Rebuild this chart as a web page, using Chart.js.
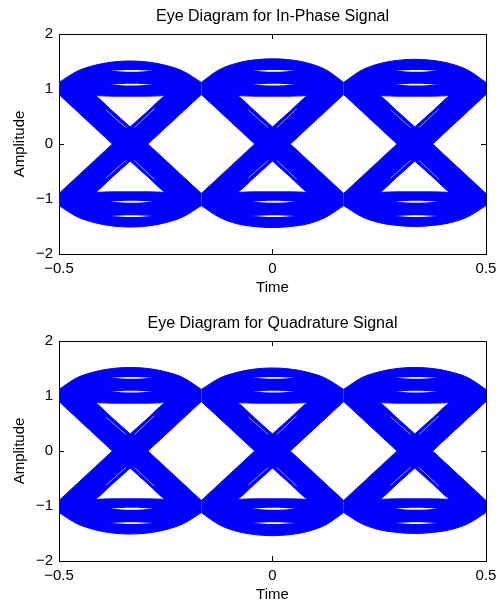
<!DOCTYPE html>
<html><head><meta charset="utf-8">
<script src="https://cdn.jsdelivr.net/npm/chart.js@4.4.1/dist/chart.umd.min.js"></script>
<style>
html,body{margin:0;padding:0;background:#fff;overflow:hidden;width:499px;height:607px}
canvas{position:absolute;left:0}
#c1{top:0px}
#c2{top:307px}
</style></head><body>
<canvas id="c1" width="499" height="300"></canvas>
<canvas id="c2" width="499" height="300"></canvas>
<script>
// ---------------- data ----------------
const titles = ['Eye Diagram for In-Phase Signal', 'Eye Diagram for Quadrature Signal'];
const xLabel = 'Time';
const yLabel = 'Amplitude';
const xTickValues = [-0.5, 0, 0.5];
const yTickValues = [-2, -1, 0, 1, 2];

// symbol sampling instants (edges of the three symbol intervals shown)
const symbolTimes = [-0.5, -1/6, 1/6, 0.5];
// positions inside one symbol interval where band edges were read
const segFrac = [0, 0.125, 0.25, 0.375, 0.5, 0.625, 0.75, 0.875, 1];

// transition bands (+1 -> -1 and -1 -> +1): upper / lower edge
const fallTop = [1.10, 1.03, 0.89, 0.60, 0.31, 0.00, -0.30, -0.60, -0.90];
const fallBot = [0.90, 0.60, 0.30, 0.00, -0.31, -0.60, -0.89, -1.03, -1.10];
const riseTop = [-0.90, -0.60, -0.30, 0.00, 0.31, 0.60, 0.89, 1.03, 1.10];
const riseBot = [-1.10, -1.03, -0.89, -0.60, -0.31, 0.00, 0.30, 0.60, 0.90];

// steady +1 -> +1 band (lower edge) and -1 -> -1 band (upper edge)
const hiBot = [0.90, 0.89, 0.88, 0.87, 0.87, 0.87, 0.88, 0.89, 0.90];
const loTop = [-0.90, -0.89, -0.88, -0.87, -0.87, -0.87, -0.88, -0.89, -0.90];

// outer arches, In-Phase plot (one row per symbol interval)
const hiTopI = [
  [1.12, 1.32, 1.43, 1.49, 1.51, 1.49, 1.43, 1.32, 1.12],
  [1.12, 1.35, 1.47, 1.53, 1.55, 1.53, 1.47, 1.35, 1.12],
  [1.12, 1.34, 1.46, 1.52, 1.54, 1.52, 1.46, 1.34, 1.12]
];
const loBotI = [
  [-1.12, -1.32, -1.43, -1.49, -1.51, -1.49, -1.43, -1.32, -1.12],
  [-1.12, -1.33, -1.45, -1.50, -1.52, -1.50, -1.45, -1.33, -1.12],
  [-1.12, -1.32, -1.43, -1.48, -1.50, -1.48, -1.43, -1.32, -1.12]
];
// outer arches, Quadrature plot
const hiTopQ = [
  [1.12, 1.33, 1.44, 1.50, 1.52, 1.50, 1.44, 1.33, 1.12],
  [1.12, 1.32, 1.43, 1.49, 1.51, 1.49, 1.43, 1.32, 1.12],
  [1.12, 1.33, 1.44, 1.50, 1.52, 1.50, 1.44, 1.33, 1.12]
];
const loBotQ = [
  [-1.12, -1.32, -1.43, -1.49, -1.51, -1.49, -1.43, -1.32, -1.12],
  [-1.12, -1.34, -1.46, -1.52, -1.54, -1.52, -1.46, -1.34, -1.12],
  [-1.12, -1.32, -1.43, -1.48, -1.50, -1.48, -1.43, -1.32, -1.12]
];

// thin gaps between trace bundles inside the steady bands
const lensFrac = [0.36, 0.44, 0.51, 0.58, 0.66];
const gapHiOuterTop = [1.33, 1.342, 1.346, 1.342, 1.33];
const gapHiOuterBot = [1.33, 1.318, 1.314, 1.318, 1.33];
const gapHiInnerTop = [1.08, 1.092, 1.096, 1.092, 1.08];
const gapHiInnerBot = [1.08, 1.068, 1.064, 1.068, 1.08];
const gapLoInnerTop = [-1.05, -1.038, -1.034, -1.038, -1.05];
const gapLoInnerBot = [-1.05, -1.062, -1.066, -1.062, -1.05];
const gapLoOuterTop = [-1.31, -1.298, -1.294, -1.298, -1.31];
const gapLoOuterBot = [-1.31, -1.322, -1.326, -1.322, -1.31];

// faint gaps along the arms of each crossing
const streakFracEarly = [0.33, 0.40, 0.47];
const streakFracLate = [0.53, 0.60, 0.67];
const streakFallEarly = [0.62, 0.46, 0.30];
const streakFallLate = [-0.30, -0.47, -0.64];
const streakRiseEarly = [-0.62, -0.46, -0.30];
const streakRiseLate = [0.30, 0.47, 0.64];

// ---------------- styling ----------------
const BLUE = 'rgb(0,0,255)';
const FONT = "'Liberation Sans', Arial, Helvetica, sans-serif";
Chart.defaults.color = '#000';
Chart.defaults.font.family = FONT;

function addBand(ds, xs, top, bot, color, stroke, order) {
  const common = {
    borderColor: stroke, borderWidth: 1, backgroundColor: color,
    pointRadius: 0, cubicInterpolationMode: 'monotone', order: order
  };
  ds.push(Object.assign({ data: xs.map((x, i) => ({ x: x, y: top[i] })), fill: false }, common));
  ds.push(Object.assign({ data: xs.map((x, i) => ({ x: x, y: bot[i] })), fill: '-1' }, common));
}

function addStreak(ds, xs, vals) {
  ds.push({ data: xs.map((x, i) => ({ x: x, y: vals[i] })), fill: false,
            borderColor: 'rgba(255,255,255,0.75)', borderWidth: 0.8, pointRadius: 0,
            cubicInterpolationMode: 'monotone', order: -1 });
}

function buildDatasets(hiTop, loBot) {
  const ds = [];
  for (let k = 0; k < 3; k++) {
    const t0 = symbolTimes[k], t1 = symbolTimes[k + 1];
    const at = f => t0 + f * (t1 - t0);
    const xs = segFrac.map(at);
    addBand(ds, xs, hiTop[k], hiBot, BLUE, BLUE, 1);
    addBand(ds, xs, loTop, loBot[k], BLUE, BLUE, 1);
    addBand(ds, xs, fallTop, fallBot, BLUE, BLUE, 1);
    addBand(ds, xs, riseTop, riseBot, BLUE, BLUE, 1);
    const lx = lensFrac.map(at);
    const W = '#ffffff', T = 'rgba(0,0,0,0)';
    addBand(ds, lx, gapHiOuterTop, gapHiOuterBot, W, T, 0);
    addBand(ds, lx, gapHiInnerTop, gapHiInnerBot, W, T, 0);
    addBand(ds, lx, gapLoInnerTop, gapLoInnerBot, W, T, 0);
    addBand(ds, lx, gapLoOuterTop, gapLoOuterBot, W, T, 0);
    addStreak(ds, streakFracEarly.map(at), streakFallEarly);
    addStreak(ds, streakFracLate.map(at), streakFallLate);
    addStreak(ds, streakFracEarly.map(at), streakRiseEarly);
    addStreak(ds, streakFracLate.map(at), streakRiseLate);
  }
  return ds;
}

const fmt = v => (v < 0 ? '\u2212' : '') + String(Math.abs(v));
const tickFont = { family: FONT, size: 15 };

function axisGrid() {
  return { drawOnChartArea: false, drawTicks: true, tickLength: -5, color: '#000', lineWidth: 1 };
}
function noPad(s) { s.paddingLeft = 0; s.paddingRight = 0; s.paddingTop = 0; s.paddingBottom = 0; }

function makeChart(id, title, hiTop, loBot) {
  return new Chart(document.getElementById(id), {
    type: 'line',
    data: { datasets: buildDatasets(hiTop, loBot) },
    options: {
      responsive: false, animation: false, devicePixelRatio: 1, events: [],
      layout: { padding: { left: 0, right: 13, top: 0, bottom: 0 } },
      plugins: {
        legend: { display: false }, tooltip: { enabled: false },
        title: { display: true, text: title, fullSize: false, color: '#000',
                 font: { family: FONT, size: 16, weight: 'normal' },
                 padding: { top: 7, bottom: 7.8 } }
      },
      scales: {
        x: { type: 'linear', position: 'bottom', min: -0.5, max: 0.5,
             afterBuildTicks: s => { s.ticks = xTickValues.map(v => ({ value: v })); },
             ticks: { font: tickFont, color: '#000', padding: 11, maxRotation: 0, autoSkip: false, callback: v => fmt(v) },
             grid: axisGrid(), border: { display: true, color: '#000', width: 1 },
             title: { display: true, text: xLabel, color: '#000', font: tickFont, padding: { top: 0, bottom: 3 } },
             afterFit: s => { s.height = 46; noPad(s); } },
        y: { type: 'linear', position: 'left', min: -2, max: 2,
             afterBuildTicks: s => { s.ticks = yTickValues.map(v => ({ value: v })); },
             ticks: { font: tickFont, color: '#000', padding: 11, callback: v => fmt(v) },
             grid: axisGrid(), border: { display: true, color: '#000', width: 1 },
             title: { display: true, text: yLabel, color: '#000', font: tickFont, padding: { top: 11, bottom: 0 } },
             afterFit: s => { s.width = 59; noPad(s); } },
        x2: { type: 'linear', position: 'top', min: -0.5, max: 0.5,
              afterBuildTicks: s => { s.ticks = xTickValues.map(v => ({ value: v })); },
              ticks: { display: false }, grid: axisGrid(), border: { display: true, color: '#000', width: 1 },
              afterFit: s => { s.height = 0; noPad(s); } },
        y2: { type: 'linear', position: 'right', min: -2, max: 2,
              afterBuildTicks: s => { s.ticks = yTickValues.map(v => ({ value: v })); },
              ticks: { display: false }, grid: axisGrid(), border: { display: true, color: '#000', width: 1 },
              afterFit: s => { s.width = 0; noPad(s); } }
      }
    }
  });
}

makeChart('c1', titles[0], hiTopI, loBotI);
makeChart('c2', titles[1], hiTopQ, loBotQ);
</script>
</body></html>
